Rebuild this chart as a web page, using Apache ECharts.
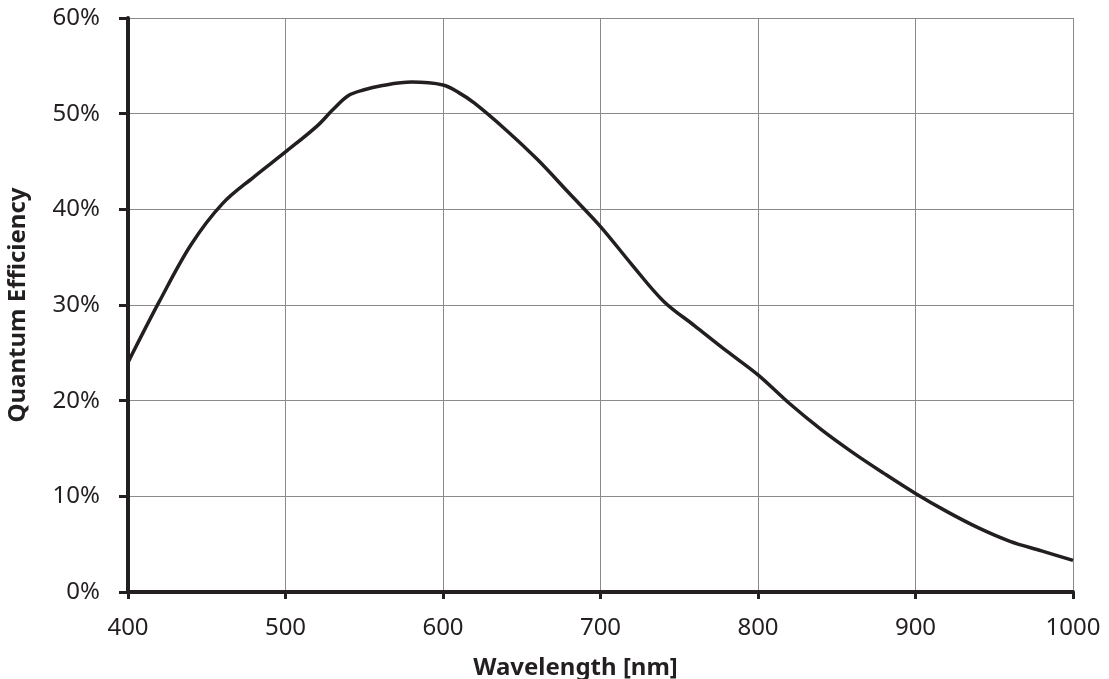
<!DOCTYPE html>
<html>
<head>
<meta charset="utf-8">
<script src="https://cdn.jsdelivr.net/npm/echarts@6/dist/echarts.min.js"></script>
<style>
  html,body{margin:0;padding:0;background:#fff;}
  #chart{width:1109px;height:679px;}
</style>
</head>
<body>
<div id="chart"></div>
<script>
// wavelength (nm) and quantum efficiency (%)
const wavelength = [400,420,440,460,480,500,520,530,540,550,560,580,600,610,620,640,660,680,700,720,740,760,780,800,820,840,860,880,900,920,940,960,980,1000];
const qe =         [24.0,30.4,36.3,40.6,43.4,46.0,48.7,50.4,51.9,52.5,52.9,53.3,53.0,52.2,51.1,48.3,45.2,41.7,38.2,34.2,30.4,27.8,25.2,22.7,19.7,17.0,14.6,12.4,10.3,8.4,6.7,5.3,4.3,3.3];
const xTicks = [400,500,600,700,800,900,1000];
const yTicks = [0,10,20,30,40,50,60];

const ink = '#231f20';
const font = '"Noto Sans", "Open Sans", sans-serif';

const c = echarts.init(document.getElementById('chart'));
c.setOption({
  animation:false,
  backgroundColor:'#fff',
  grid:{left:128,right:36,top:18,bottom:87,containLabel:false,outerBoundsMode:'none'},
  xAxis:{
    type:'value',min:xTicks[0],max:xTicks[xTicks.length-1],interval:100,
    name:'Wavelength [nm]',nameLocation:'middle',nameGap:64,
    nameTextStyle:{fontFamily:font,fontWeight:'bold',fontSize:24,color:ink,padding:[0,50,0,0]},
    axisLine:{show:true,onZero:false,lineStyle:{color:ink,width:4}},
    axisTick:{show:true,length:7,lineStyle:{color:ink,width:3}},
    axisLabel:{fontFamily:font,fontSize:24,color:ink,margin:24,formatter:v=>String(v)},
    splitLine:{show:true,lineStyle:{color:'#8a8a8a',width:1}}
  },
  yAxis:{
    type:'value',min:yTicks[0],max:yTicks[yTicks.length-1],interval:10,
    name:'Quantum Efficiency',nameLocation:'middle',nameGap:98,nameRotate:90,
    nameTextStyle:{fontFamily:font,fontWeight:'bold',fontSize:24,color:ink},
    axisLine:{show:true,onZero:false,lineStyle:{color:ink,width:4}},
    axisTick:{show:true,length:9,lineStyle:{color:ink,width:3}},
    axisLabel:{fontFamily:font,fontSize:24,color:ink,margin:28,formatter:v=>v+'%'},
    splitLine:{show:true,lineStyle:{color:'#8a8a8a',width:1}}
  },
  series:[{
    type:'line',smooth:0.35,showSymbol:false,
    data:wavelength.map((w,i)=>[w,qe[i]]),
    lineStyle:{color:ink,width:3.5},
    z:5
  }]
});
</script>
</body>
</html>
